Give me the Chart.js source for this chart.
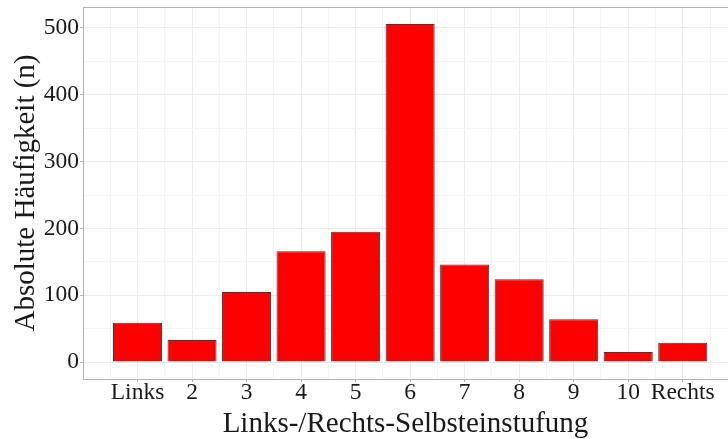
<!DOCTYPE html>
<html>
<head>
<meta charset="utf-8">
<script src="https://cdn.jsdelivr.net/npm/chart.js@4"></script>
<style>
  html, body { margin: 0; padding: 0; background: #ffffff; }
  #wrap { width: 728px; height: 439px; }
</style>
</head>
<body>
<div id="wrap"><canvas id="c" width="728" height="439"></canvas></div>
<script>
const categories = ['Links', '2', '3', '4', '5', '6', '7', '8', '9', '10', 'Rechts'];
const counts = [59, 33, 105, 166, 195, 506, 146, 124, 64, 15, 29];
const yTickValues = [0, 100, 200, 300, 400, 500];
const yMinorValues = [50, 150, 250, 350, 450];
const xTitle = 'Links-/Rechts-Selbsteinstufung';
const yTitle = 'Absolute Häufigkeit (n)';

const points = counts.map((v, i) => ({ x: i, y: v }));
const xTicks = [];
for (let i = -1; i <= categories.length; i++) {
  xTicks.push({ value: i, major: true });
  xTicks.push({ value: i + 0.5, major: false });
}
const yTicks = yTickValues.map(v => ({ value: v, major: true }))
  .concat(yMinorValues.map(v => ({ value: v, major: false })))
  .sort((a, b) => a.value - b.value);

const serif = '"Liberation Serif", "DejaVu Serif", serif';

new Chart(document.getElementById('c'), {
  type: 'bar',
  data: {
    datasets: [{
      data: points,
      backgroundColor: '#ff0000',
      borderColor: '#3a3a3a',
      borderWidth: 1,
      // x ticks include half-step minor grid positions, so the sample spacing is half a category
      barPercentage: 1.8,
      categoryPercentage: 1.0
    }]
  },
  options: {
    responsive: false,
    animation: false,
    devicePixelRatio: 1,
    layout: { padding: { left: 0, top: 7, right: 0, bottom: 0 } },
    plugins: { legend: { display: false }, tooltip: { enabled: false } },
    scales: {
      x: {
        type: 'linear',
        offset: false,
        min: -1,
        max: 10.83,
        afterBuildTicks: s => { s.ticks = xTicks.filter(t => t.value >= s.min && t.value <= s.max).map(t => ({ value: t.value, major: t.major })); },
        afterFit: s => { s.height = 60; s.paddingLeft = 0; s.paddingRight = 0; },
        ticks: {
          autoSkip: false,
          maxRotation: 0,
          padding: -3,
          color: '#1a1a1a',
          font: { family: serif, size: 23.5 },
          callback: v => (Number.isInteger(v) && v >= 0 && v < categories.length) ? categories[v] : ''
        },
        grid: {
          offset: false,
          color: ctx => (ctx.tick && Number.isInteger(ctx.tick.value)) ? '#ebebeb' : '#f5f5f5',
          lineWidth: 1,
          tickLength: 3,
          tickColor: ctx => (ctx.tick && Number.isInteger(ctx.tick.value) && ctx.tick.value >= 0 && ctx.tick.value < categories.length) ? '#b3b3b3' : 'rgba(0,0,0,0)'
        },
        border: { display: true, color: '#b3b3b3', width: 1 },
        title: {
          display: true,
          text: xTitle,
          color: '#1a1a1a',
          font: { family: serif, size: 29, lineHeight: 1 },
          padding: { top: 0, bottom: 0 }
        }
      },
      y: {
        type: 'linear',
        min: -25.3,
        max: 531.3,
        afterBuildTicks: s => { s.ticks = yTicks.map(t => ({ value: t.value, major: t.major })); },
        afterFit: s => { s.width = 83; s.paddingTop = 0; s.paddingBottom = 0; },
        ticks: {
          padding: 1,
          color: '#1a1a1a',
          font: { family: serif, size: 23.5 },
          callback: v => (yTickValues.indexOf(v) >= 0) ? String(v) : ''
        },
        grid: {
          color: ctx => (ctx.tick && yTickValues.indexOf(ctx.tick.value) >= 0) ? '#ebebeb' : '#f5f5f5',
          lineWidth: 1,
          tickLength: 3,
          tickColor: ctx => (ctx.tick && yTickValues.indexOf(ctx.tick.value) >= 0) ? '#b3b3b3' : 'rgba(0,0,0,0)'
        },
        border: { display: true, color: '#b3b3b3', width: 1 },
        title: {
          display: true,
          text: yTitle,
          color: '#1a1a1a',
          font: { family: serif, size: 29 },
          padding: { top: 9, bottom: 0 }
        }
      }
    }
  },
  plugins: [{
    id: 'topBorder',
    afterDraw: chart => {
      const { ctx, chartArea } = chart;
      ctx.save();
      ctx.strokeStyle = '#b3b3b3';
      ctx.lineWidth = 1;
      ctx.beginPath();
      ctx.moveTo(chartArea.left, chartArea.top + 0.5);
      ctx.lineTo(chartArea.right, chartArea.top + 0.5);
      ctx.stroke();
      ctx.restore();
    }
  }]
});
</script>
</body>
</html>
